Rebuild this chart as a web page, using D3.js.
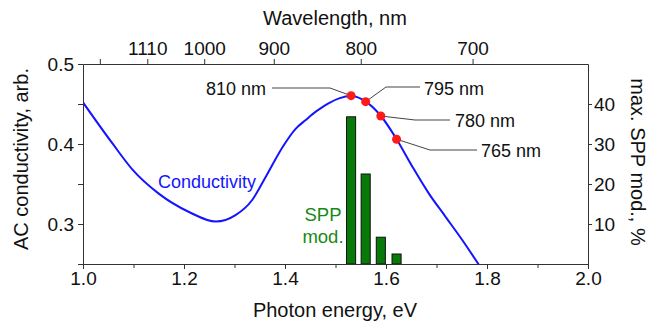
<!DOCTYPE html>
<html>
<head>
<meta charset="utf-8">
<script src="https://cdn.jsdelivr.net/npm/d3@7"></script>
<style>
  body { margin: 0; background: #fff; }
  svg { display: block; font-family: "Liberation Sans", Arial, sans-serif; }
  .axis path, .axis line { stroke: #333; }
</style>
</head>
<body>
<div id="chart"></div>
<script>
// conductivity curve
const energy = [1.0, 1.058, 1.098, 1.15, 1.21, 1.263, 1.302, 1.335, 1.362, 1.395, 1.421, 1.441, 1.454, 1.474, 1.487, 1.507, 1.531, 1.56, 1.59, 1.621, 1.652, 1.685, 1.718, 1.751, 1.785];
const conductivity = [0.452, 0.401, 0.368, 0.338, 0.315, 0.303, 0.311, 0.33, 0.359, 0.396, 0.419, 0.430, 0.437, 0.446, 0.451, 0.457, 0.460, 0.453, 0.435, 0.406, 0.372, 0.338, 0.309, 0.280, 0.248];

// laser wavelengths, SPP modulation (bars) and marked points
const wavelengths = [810, 795, 780, 765];
const sppMod = [36.8, 22.5, 6.7, 2.5];
const dotConductivity = [0.4604, 0.4529, 0.435, 0.406];
const waveLabels = ["810 nm", "795 nm", "780 nm", "765 nm"];

// axes
const energyTicks = [1.0, 1.2, 1.4, 1.6, 1.8, 2.0];
const energyMinor = [1.1, 1.3, 1.5, 1.7, 1.9];
const condTicks = [0.3, 0.4, 0.5];
const condMinor = [0.25, 0.35, 0.45];
const sppTicks = [10, 20, 30, 40];
const topTickNm = [1200, 1100, 1000, 900, 800, 700];
const topTickLabels = ["", "1110", "1000", "900", "800", "700"];

const W = 666, H = 327;
const pLeft = 83, pRight = 588, pTop = 64, pBottom = 264;

const svg = d3.select("#chart").append("svg")
  .attr("width", W).attr("height", H);

const x = d3.scaleLinear().domain([1, 2]).range([pLeft, pRight]);
const yL = d3.scaleLinear().domain([0.25, 0.5]).range([pBottom, pTop]);
const yR = d3.scaleLinear().domain([0, 50]).range([pBottom, pTop]);
const nmToEv = nm => 1240 / nm;

svg.append("defs").append("clipPath").attr("id", "plot")
  .append("rect").attr("x", pLeft).attr("y", pTop)
  .attr("width", pRight - pLeft).attr("height", pBottom - pTop);

// bars
const barHalf = 0.009;
svg.append("g").selectAll("rect")
  .data(wavelengths)
  .enter().append("rect")
  .attr("x", d => x(nmToEv(d) - barHalf))
  .attr("width", d => x(nmToEv(d) + barHalf) - x(nmToEv(d) - barHalf))
  .attr("y", (d, i) => yR(sppMod[i]))
  .attr("height", (d, i) => yR(0) - yR(sppMod[i]))
  .attr("fill", "#087a08")
  .attr("stroke", "#111")
  .attr("stroke-width", 1);

// conductivity curve
const line = d3.line()
  .x((d, i) => x(energy[i]))
  .y(d => yL(d))
  .curve(d3.curveMonotoneX);
svg.append("path")
  .attr("clip-path", "url(#plot)")
  .attr("d", line(conductivity))
  .attr("fill", "none")
  .attr("stroke", "#1414ff")
  .attr("stroke-width", 2);

// axes
function styleAxis(g, size) {
  g.attr("class", "axis");
  g.selectAll("text").style("font-size", size + "px").attr("fill", "#111")
    .style("font-family", "'Liberation Sans', Arial, sans-serif");
}

svg.append("g").attr("transform", "translate(0," + pBottom + ")")
  .call(d3.axisBottom(x).tickValues(energyMinor).tickSize(4).tickSizeOuter(0).tickFormat(""))
  .call(styleAxis, 19);
svg.append("g").attr("transform", "translate(0," + pBottom + ")")
  .call(d3.axisBottom(x).tickValues(energyTicks).tickSize(5).tickPadding(3).tickSizeOuter(0).tickFormat(d3.format(".1f")))
  .call(styleAxis, 19);

svg.append("g").attr("transform", "translate(" + pLeft + ",0)")
  .call(d3.axisLeft(yL).tickValues(condMinor).tickSize(5).tickSizeOuter(0).tickFormat(""))
  .call(styleAxis, 19);
svg.append("g").attr("transform", "translate(" + pLeft + ",0)")
  .call(d3.axisLeft(yL).tickValues(condTicks).tickSize(5).tickPadding(4).tickSizeOuter(0).tickFormat(d3.format(".1f")))
  .call(styleAxis, 19);

svg.append("g").attr("transform", "translate(" + pRight + ",0)")
  .call(d3.axisRight(yR).tickValues(sppTicks).tickSize(4).tickPadding(2).tickSizeOuter(0))
  .call(styleAxis, 19);

svg.append("g").attr("transform", "translate(0," + pTop + ")")
  .call(d3.axisTop(x).tickValues(topTickNm.map(nmToEv)).tickSize(5).tickPadding(4).tickSizeOuter(0)
    .tickFormat((d, i) => topTickLabels[i]))
  .call(styleAxis, 19);

// leader lines and labels (pixel layout of annotations)
const labelLayout = [
  { pts: [[272, 88], [330, 88]], tx: 266, ty: 89, anchor: "end" },
  { pts: [[386, 87], [420, 87]], tx: 424, ty: 89, anchor: "start" },
  { pts: [[415, 120], [450, 120]], tx: 455, ty: 121, anchor: "start" },
  { pts: [[430, 150], [477, 150]], tx: 481, ty: 151, anchor: "start" }
];
const dotPos = wavelengths.map((w, i) => [x(nmToEv(w)), yL(dotConductivity[i])]);

labelLayout.forEach((l, i) => {
  let pts = i === 0 ? l.pts.concat([dotPos[i]]) : [dotPos[i]].concat(l.pts);
  svg.append("path")
    .attr("d", d3.line()(pts))
    .attr("fill", "none").attr("stroke", "#444").attr("stroke-width", 1);
  svg.append("text")
    .attr("x", l.tx).attr("y", l.ty).attr("dy", "0.35em")
    .attr("text-anchor", l.anchor)
    .style("font-size", "18px").attr("fill", "#111")
    .text(waveLabels[i]);
});

svg.append("g").selectAll("circle")
  .data(dotPos)
  .enter().append("circle")
  .attr("cx", d => d[0]).attr("cy", d => d[1]).attr("r", 4.5)
  .attr("fill", "#ff1a1a");

// in-plot labels
svg.append("text").attr("x", 207).attr("y", 182).attr("dy", "0.35em")
  .attr("text-anchor", "middle").style("font-size", "18px").attr("fill", "#1414ff")
  .text("Conductivity");
svg.append("text").attr("x", 323).attr("y", 215).attr("dy", "0.35em")
  .attr("text-anchor", "middle").style("font-size", "18.5px").attr("fill", "#158a15")
  .text("SPP");
svg.append("text").attr("x", 323).attr("y", 237).attr("dy", "0.35em")
  .attr("text-anchor", "middle").style("font-size", "18.5px").attr("fill", "#158a15")
  .text("mod.");

// axis titles
svg.append("text").attr("x", 335).attr("y", 317)
  .attr("text-anchor", "middle").style("font-size", "20px").attr("fill", "#111")
  .text("Photon energy, eV");
svg.append("text").attr("x", 335).attr("y", 25)
  .attr("text-anchor", "middle").style("font-size", "20px").attr("fill", "#111")
  .text("Wavelength, nm");
svg.append("text").attr("transform", "translate(28,159) rotate(-90)")
  .attr("text-anchor", "middle").style("font-size", "20px").attr("fill", "#111")
  .text("AC conductivity, arb.");
svg.append("text").attr("transform", "translate(631,162) rotate(90)")
  .attr("text-anchor", "middle").style("font-size", "20px").attr("fill", "#111")
  .text("max. SPP mod., %");
</script>
</body>
</html>
